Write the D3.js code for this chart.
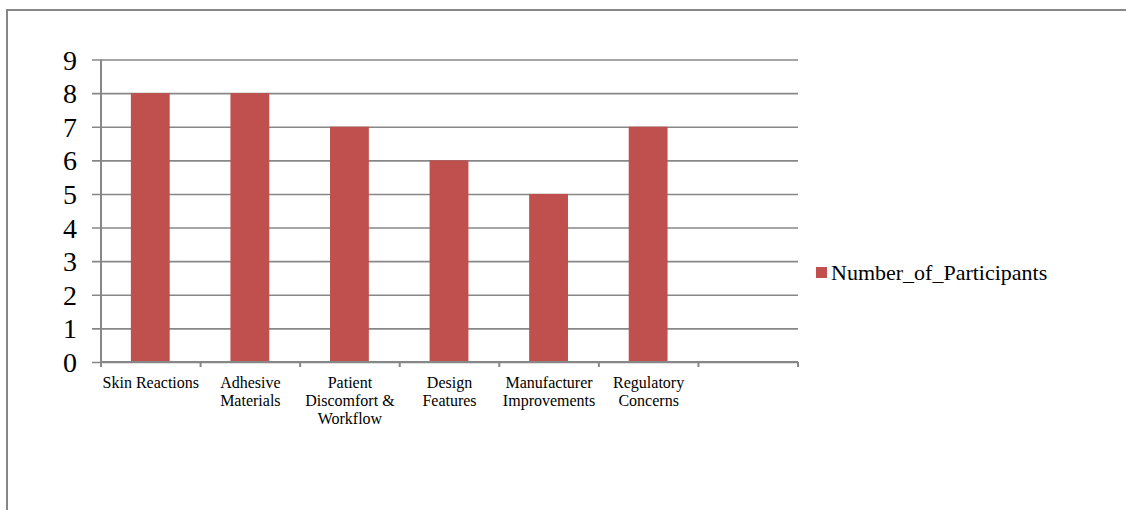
<!DOCTYPE html>
<html>
<head>
<meta charset="utf-8">
<script src="https://cdn.jsdelivr.net/npm/d3@7"></script>
<style>
  html, body { margin: 0; padding: 0; background: #fff; }
  svg { display: block; }
  text { font-family: "Liberation Serif", "Times New Roman", serif; fill: #000; }
</style>
</head>
<body>
<svg id="chart" width="1126" height="510"></svg>
<script>
// ---- data ----
const categories = ["Skin Reactions", "Adhesive Materials", "Patient Discomfort & Workflow",
                    "Design Features", "Manufacturer Improvements", "Regulatory Concerns"];
const categoryLines = [["Skin Reactions"], ["Adhesive", "Materials"], ["Patient", "Discomfort &", "Workflow"],
                       ["Design", "Features"], ["Manufacturer", "Improvements"], ["Regulatory", "Concerns"]];
const values = [8, 8, 7, 6, 5, 7];
const seriesName = "Number_of_Participants";
const yTicks = [0, 1, 2, 3, 4, 5, 6, 7, 8, 9];

// ---- layout ----
(function () {
const svg = d3.select("#chart");
const gridColor = "#878787";
const barColor = "#C0504D";
const pLeft = 101, pRight = 798, pTop = 59.5, pBottom = 362;

// outer frame (top and left edges visible)
svg.append("line").attr("x1", 6).attr("x2", 1126).attr("y1", 10).attr("y2", 10)
  .attr("stroke", gridColor).attr("stroke-width", 2);
svg.append("line").attr("x1", 7).attr("x2", 7).attr("y1", 9).attr("y2", 510)
  .attr("stroke", gridColor).attr("stroke-width", 2);

const slots = categories.concat([""]);
const x = d3.scaleBand().domain(slots).range([pLeft, pRight]).padding(0);
const y = d3.scaleLinear().domain([0, 9]).range([pBottom, pTop]);

// gridlines + y ticks
const yAxis = d3.axisLeft(y).tickValues(yTicks).tickSize(0).tickFormat(d3.format("d"));
const gy = svg.append("g").attr("transform", `translate(${pLeft},0)`).call(yAxis);
gy.select(".domain").remove();
gy.selectAll(".tick text").remove();
gy.selectAll(".tick").append("line")
  .attr("x1", -9).attr("x2", pRight - pLeft)
  .attr("stroke", gridColor).attr("stroke-width", 1.6);
gy.selectAll(".tick").append("text")
  .attr("x", -24).attr("y", 9.5)
  .attr("text-anchor", "end")
  .style("font-size", "28px")
  .text(d => d);

// bars
svg.append("g").selectAll("rect").data(values).join("rect")
  .attr("x", (d, i) => x(categories[i]) + x.bandwidth() * 0.3)
  .attr("width", x.bandwidth() * 0.39)
  .attr("y", d => y(d))
  .attr("height", d => y(0) - y(d))
  .attr("fill", barColor);

// y axis line
svg.append("line").attr("x1", pLeft).attr("x2", pLeft).attr("y1", pTop).attr("y2", pBottom)
  .attr("stroke", gridColor).attr("stroke-width", 2);

// x axis line + tick marks
svg.append("line").attr("x1", pLeft).attr("x2", pRight).attr("y1", pBottom).attr("y2", pBottom)
  .attr("stroke", gridColor).attr("stroke-width", 2);
const boundaries = slots.map(s => x(s)).concat([pRight]);
svg.append("g").selectAll("line").data(boundaries).join("line")
  .attr("x1", d => d).attr("x2", d => d)
  .attr("y1", pBottom).attr("y2", pBottom + 5)
  .attr("stroke", gridColor).attr("stroke-width", 2);

// category labels
const lab = svg.append("g").selectAll("text").data(categories).join("text")
  .attr("text-anchor", "middle")
  .style("font-size", "16px");
lab.each(function (d, i) {
  const t = d3.select(this);
  categoryLines[i].forEach((line, j) => {
    t.append("tspan")
      .attr("x", x(d) + x.bandwidth() / 2)
      .attr("y", 387.5 + j * 18)
      .text(line);
  });
});

// legend
svg.append("rect").attr("x", 816).attr("y", 267).attr("width", 11).attr("height", 11).attr("fill", barColor);
svg.append("text").attr("x", 831).attr("y", 280).style("font-size", "22px").text(seriesName);
})();
</script>
</body>
</html>
